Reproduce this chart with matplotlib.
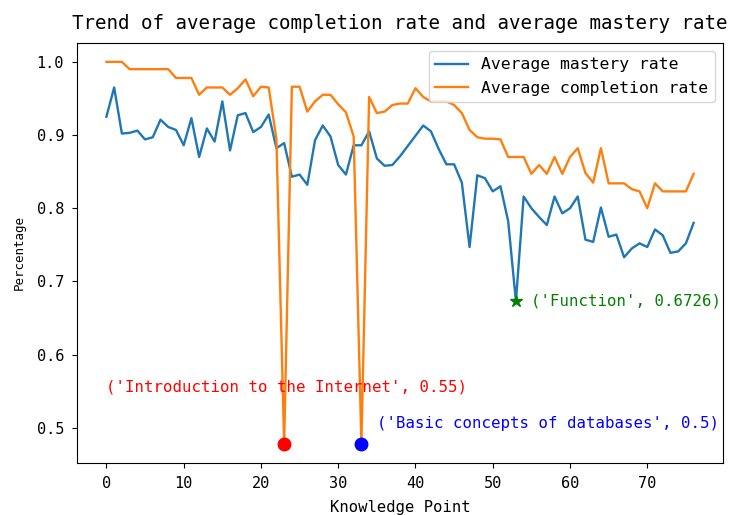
import matplotlib
matplotlib.use("Agg")
import matplotlib.pyplot as plt

# knowledge point index 0..76
points = list(range(77))

mastery = [
    0.925, 0.965, 0.902, 0.903, 0.906, 0.894, 0.897, 0.921, 0.911, 0.907,
    0.886, 0.923, 0.870, 0.909, 0.891, 0.946, 0.879, 0.927, 0.930, 0.904,
    0.911, 0.928, 0.882, 0.889, 0.843, 0.846, 0.832, 0.893, 0.913, 0.898,
    0.859, 0.846, 0.886, 0.886, 0.905, 0.868, 0.858, 0.859, 0.871, 0.885,
    0.899, 0.913, 0.905, 0.881, 0.860, 0.860, 0.835, 0.747, 0.845, 0.841,
    0.823, 0.830, 0.782, 0.6726, 0.816, 0.800, 0.788, 0.777, 0.816, 0.793,
    0.800, 0.816, 0.757, 0.754, 0.801, 0.761, 0.764, 0.733, 0.745, 0.752,
    0.747, 0.771, 0.763, 0.739, 0.741, 0.752, 0.780,
]

completion = [
    1.000, 1.000, 1.000, 0.990, 0.990, 0.990, 0.990, 0.990, 0.990, 0.978,
    0.978, 0.978, 0.955, 0.965, 0.965, 0.965, 0.955, 0.964, 0.976, 0.953,
    0.966, 0.965, 0.895, 0.478, 0.966, 0.966, 0.932, 0.946, 0.955, 0.955,
    0.942, 0.931, 0.898, 0.478, 0.952, 0.930, 0.932, 0.941, 0.943, 0.943,
    0.964, 0.952, 0.946, 0.946, 0.946, 0.941, 0.930, 0.907, 0.897, 0.895,
    0.895, 0.894, 0.870, 0.870, 0.870, 0.847, 0.859, 0.847, 0.870, 0.847,
    0.870, 0.882, 0.848, 0.835, 0.882, 0.834, 0.834, 0.834, 0.826, 0.823,
    0.800, 0.834, 0.823, 0.823, 0.823, 0.823, 0.847,
]

# highlighted points: (index, name, value shown, colour)
low_completion = [(23, "Introduction to the Internet", 0.55, "red"),
                  (33, "Basic concepts of databases", 0.5, "blue")]
low_mastery = (53, "Function", 0.6726)
text_pos = {23: (0, 0.55), 33: (35, 0.5), 53: (55, 0.6726)}

plt.rcParams["font.family"] = ["DejaVu Sans Mono", "DejaVu Sans"]

fig = plt.figure(figsize=(7.34, 5.15), dpi=100)
ax = fig.add_axes([0.105, 0.101, 0.880, 0.816])

ax.plot(points, mastery, label="Average mastery rate", color="#1f77b4", linewidth=1.7)
ax.plot(points, completion, label="Average completion rate", color="#ff7f0e", linewidth=1.7)

for idx, name, val, col in low_completion:
    ax.plot(idx, completion[idx], "o", color=col, markersize=9)
    tx, ty = text_pos[idx]
    ax.text(tx, ty, str((name, val)), color=col, fontsize=11.3)

idx, name, val = low_mastery
ax.plot(idx, mastery[idx], "*", color="green", markersize=9)
tx, ty = text_pos[idx]
ax.text(tx, ty, str((name, val)), color="green", fontsize=11.3, va="center")

ax.set_title("Trend of average completion rate and average mastery rate", fontsize=13.8, pad=10)
ax.set_xlabel("Knowledge Point", fontsize=11.2, labelpad=6)
ax.set_ylabel("Percentage", fontsize=9, labelpad=8)
ax.tick_params(labelsize=11, pad=6)
ax.legend(loc="upper right", fontsize=11.8)

fig.savefig("out.png", dpi=100)
plt.close(fig)
